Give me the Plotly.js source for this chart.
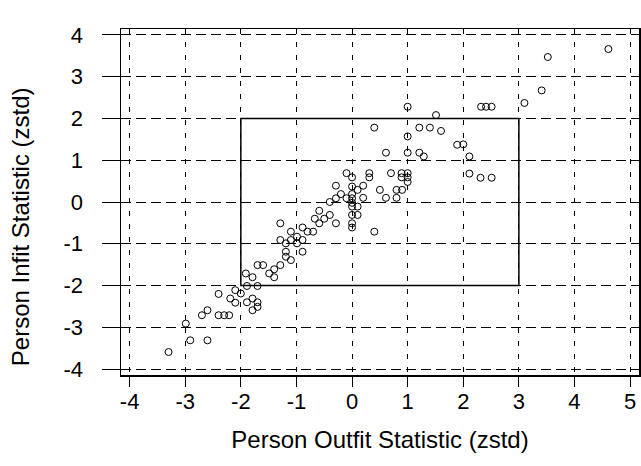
<!DOCTYPE html>
<html>
<head>
<meta charset="utf-8">
<script src="https://cdn.plot.ly/plotly-3.0.1.min.js"></script>
<style>html,body{margin:0;padding:0;background:#fff;}#chart{width:641px;height:466px;}</style>
</head>
<body>
<div id="chart"></div>
<script>
// Person outfit (x) and infit (y) z-standardized statistics
const outfitZstd = [
  4.61, 3.52, 3.41, 3.10, 2.32, 2.41, 2.51, 1.00, 1.51,
  0.40, 1.21, 1.40, 1.60, 1.00, 1.89, 2.00, 0.61, 1.00, 1.21, 1.29, 2.11, 2.11, 2.31, 2.51,
  0.31, 0.31, 0.70, 0.89, 0.89, 1.00, 1.00, 1.00, 0.20, 0.10, 0.50, 0.80, 0.90, 0.20, 0.61, 0.80,
  -0.10, 0.00, -0.29, -0.20, -0.29, -0.10, 0.00, 0.00, -0.40, -0.59, -0.40, -0.50, -0.67,
  0.00, 0.10, 0.00, 0.10, 0.00, 0.00, 0.40, -0.59, -0.29, -1.29, -0.89, -0.80, -0.70, -1.10,
  -1.29, -1.19, -1.10, -0.99, -0.99, -0.89, -0.89, -1.19, -1.19, -1.10,
  -1.70, -1.60, -1.49, -1.40, -1.40, -1.29, -1.91, -1.79, -1.89, -1.70,
  -2.40, -2.19, -2.10, -2.00, -2.10, -1.89, -1.79, -1.70, -1.79, -1.70,
  -2.70, -2.60, -2.40, -2.30, -2.21, -2.99, -2.91, -2.60, -3.30, 0.00, 0.00
];
const infitZstd = [
  3.66, 3.47, 2.67, 2.37, 2.28, 2.28, 2.28, 2.28, 2.08,
  1.78, 1.78, 1.78, 1.70, 1.57, 1.37, 1.38, 1.18, 1.18, 1.18, 1.09, 1.09, 0.68, 0.58, 0.58,
  0.69, 0.59, 0.69, 0.69, 0.59, 0.69, 0.59, 0.48, 0.39, 0.29, 0.29, 0.29, 0.29, 0.10, 0.10, 0.10,
  0.69, 0.59, 0.39, 0.19, 0.09, 0.09, 0.19, 0.09, 0.00, -0.21, -0.31, -0.40, -0.40,
  -0.11, -0.11, -0.31, -0.31, -0.51, -0.61, -0.71, -0.51, -0.51, -0.51, -0.61, -0.71, -0.71, -0.71,
  -0.91, -0.99, -0.91, -0.83, -0.99, -0.91, -1.19, -1.19, -1.31, -1.39,
  -1.51, -1.51, -1.71, -1.61, -1.80, -1.51, -1.71, -1.80, -2.01, -2.01,
  -2.20, -2.31, -2.11, -2.19, -2.41, -2.40, -2.31, -2.40, -2.59, -2.51,
  -2.71, -2.59, -2.71, -2.71, -2.71, -2.91, -3.31, -3.31, -3.59, 0.37, -0.02
];
const tickValues = [-4, -3, -2, -1, 0, 1, 2, 3, 4, 5];
const yTickValues = [-4, -3, -2, -1, 0, 1, 2, 3, 4];
const boxX = [-2, 3];
const boxY = [-2, 2];
const xTitle = 'Person Outfit Statistic (zstd)';
const yTitle = 'Person Infit Statistic (zstd)';

const trace = {
  x: outfitZstd, y: infitZstd, type: 'scatter', mode: 'markers',
  marker: {symbol: 'circle-open', size: 7, color: '#000', line: {width: 1, color: '#000'}},
  hoverinfo: 'x+y'
};
const fontFam = 'Liberation Sans, Arial, sans-serif';
const layout = {
  width: 641, height: 466,
  margin: {l: 121, r: 2, t: 29, b: 91},
  paper_bgcolor: '#fff', plot_bgcolor: '#fff',
  showlegend: false,
  font: {family: fontFam, color: '#000'},
  xaxis: {
    range: [-4.155, 5.16], tickvals: tickValues, ticktext: tickValues.map(String),
    showgrid: true, gridcolor: '#000', griddash: '5px,8px', gridwidth: 1,
    zeroline: false, showline: true, linecolor: '#000', linewidth: 1.5, mirror: true,
    ticks: 'outside', ticklen: 10, tickcolor: '#000', tickwidth: 1, ticklabelstandoff: -4,
    tickfont: {size: 22, family: fontFam, color: '#000'},
    title: {text: xTitle, font: {size: 24, family: fontFam, color: '#000'}, standoff: 18}
  },
  yaxis: {
    range: [-4.14, 4.14], tickvals: yTickValues, ticktext: yTickValues.map(String),
    showgrid: true, gridcolor: '#000', griddash: '10px,5px', gridwidth: 1,
    zeroline: false, showline: true, linecolor: '#000', linewidth: 1.5, mirror: true,
    ticks: 'outside', ticklen: 18, tickcolor: '#000', tickwidth: 1, ticklabelstandoff: 14,
    tickfont: {size: 22, family: fontFam, color: '#000'}
  },
  annotations: [{
    text: yTitle, textangle: -90, showarrow: false,
    xref: 'paper', yref: 'paper', x: -0.195, y: 0.43, xanchor: 'center', yanchor: 'middle',
    font: {size: 24, family: fontFam, color: '#000'}
  }],
  shapes: [{
    type: 'rect', xref: 'x', yref: 'y',
    x0: boxX[0], x1: boxX[1], y0: boxY[0], y1: boxY[1],
    line: {color: '#000', width: 1.5}
  }]
};
Plotly.newPlot('chart', [trace], layout, {displayModeBar: false, staticPlot: true});
</script>
</body>
</html>
